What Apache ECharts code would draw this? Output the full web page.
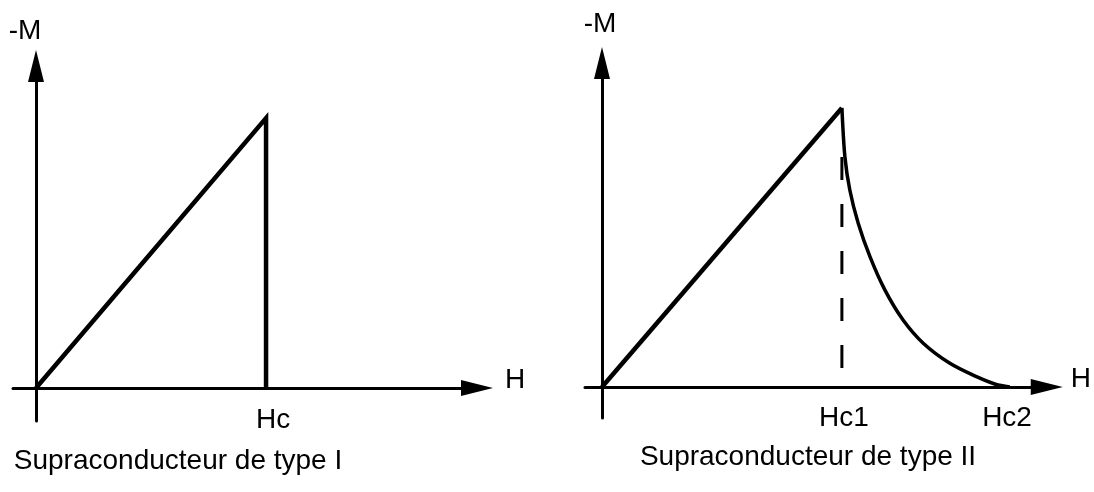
<!DOCTYPE html>
<html>
<head>
<meta charset="utf-8">
<title>Supraconducteurs</title>
<script src="https://cdn.jsdelivr.net/npm/echarts@6/dist/echarts.min.js"></script>
<style>
html, body {margin: 0; padding: 0; background: #fff;}
#echarts1 {width: 1094px; height: 492px;}
</style>
</head>
<body>
<div id="echarts1"></div>
<script>
// type I : montee lineaire puis chute a Hc
var typeI_H = [0, 1, 1];
var typeI_M = [0, 1, 0];
var typeI_ticks = [1];
var typeI_labels = ['Hc'];

// type II : montee lineaire jusqu'a Hc1, puis decroissance jusqu'a Hc2
var typeII_riseH = [0, 1];
var typeII_riseM = [0, 1];
var typeII_curveH = [1, 1.0125, 1.033, 1.068, 1.117, 1.179, 1.255, 1.339, 1.45, 1.561, 1.64, 1.70];
var typeII_curveM = [1, 0.825, 0.706, 0.587, 0.467, 0.348, 0.24, 0.157, 0.085, 0.037, 0.01, 0];
var typeII_dashH = [1, 1];
var typeII_dashM = [0.068, 0.83];
var typeII_ticks = [1, 1.68];
var typeII_labels = ['Hc1', 'Hc2'];

var titles = ['Supraconducteur de type I', 'Supraconducteur de type II'];
var axisNameX = 'H';
var axisNameY = '-M';

function pairs(xs, ys) {
    return xs.map(function (x, i) { return [x, ys[i]]; });
}

function echarts_1() {
    var myChart = echarts.init(document.getElementById('echarts1'));
    var font = 'Liberation Sans, Arial, sans-serif';

    function xAxisOf(idx, min, max, ticks, labels, gap, labelPad, margin) {
        return {
            type: 'value',
            gridIndex: idx,
            min: min,
            max: max,
            name: axisNameX,
            nameLocation: 'end',
            nameGap: gap,
            nameTextStyle: {
                color: '#000', fontSize: 28, fontFamily: font,
                align: 'left', verticalAlign: 'bottom',
                lineHeight: 16
            },
            axisLine: {
                onZero: true,
                symbol: ['none', 'triangle'],
                symbolSize: [16, 32],
                lineStyle: {color: '#000', width: 3}
            },
            axisTick: {show: false},
            splitLine: {show: false},
            axisLabel: {
                customValues: ticks,
                formatter: function (v) {
                    var i = ticks.indexOf(v);
                    return i >= 0 ? labels[i] : '';
                },
                color: '#000',
                fontSize: 28,
                fontFamily: font,
                margin: margin,
                padding: labelPad
            }
        };
    }

    function yAxisOf(idx, min, max, pad, gap) {
        return {
            type: 'value',
            gridIndex: idx,
            min: min,
            max: max,
            name: axisNameY,
            nameLocation: 'end',
            nameGap: gap,
            nameTextStyle: {
                color: '#000', fontSize: 28, fontFamily: font,
                align: 'center', verticalAlign: 'middle',
                padding: pad
            },
            axisLine: {
                onZero: true,
                symbol: ['none', 'triangle'],
                symbolSize: [16, 32],
                lineStyle: {color: '#000', width: 3}
            },
            axisTick: {show: false},
            splitLine: {show: false},
            axisLabel: {show: false}
        };
    }

    option = {
        backgroundColor: '#fff',
        animation: false,
        title: [{
            text: titles[0],
            left: 178,
            top: 447,
            textAlign: 'center',
            padding: 0,
            textStyle: {color: '#000', fontSize: 28, fontWeight: 'normal', fontFamily: font}
        }, {
            text: titles[1],
            left: 808,
            top: 443,
            textAlign: 'center',
            padding: 0,
            textStyle: {color: '#000', fontSize: 28, fontWeight: 'normal', fontFamily: font}
        }],
        grid: [
            {left: 13, top: 66, width: 464, height: 355},
            {left: 585, top: 63, width: 462, height: 355}
        ],
        xAxis: [
            xAxisOf(0, -0.1, 1.917, typeI_ticks, typeI_labels, 28, [0, 0, 0, 14], -15),
            xAxisOf(1, -0.0708, 1.854, typeII_ticks, typeII_labels, 24, [0, 0, 0, 4], -14)
        ],
        yAxis: [
            yAxisOf(0, -0.1222, 1.193, [0, 22, 0, 0], 35),
            yAxisOf(1, -0.111, 1.161, [0, 4, 0, 0], 39)
        ],
        series: [{
            name: 'type I',
            type: 'line',
            xAxisIndex: 0,
            yAxisIndex: 0,
            symbol: 'none',
            lineStyle: {color: '#000', width: 4.5, join: 'miter'},
            data: pairs(typeI_H, typeI_M)
        }, {
            name: 'type II montee',
            type: 'line',
            xAxisIndex: 1,
            yAxisIndex: 1,
            symbol: 'none',
            lineStyle: {color: '#000', width: 4.5},
            data: pairs(typeII_riseH, typeII_riseM)
        }, {
            name: 'type II courbe',
            type: 'line',
            xAxisIndex: 1,
            yAxisIndex: 1,
            symbol: 'none',
            smooth: 0.3,
            lineStyle: {color: '#000', width: 3.5},
            data: pairs(typeII_curveH, typeII_curveM)
        }, {
            name: 'Hc1',
            type: 'line',
            xAxisIndex: 1,
            yAxisIndex: 1,
            symbol: 'none',
            lineStyle: {color: '#000', width: 3, type: [23, 24]},
            data: pairs(typeII_dashH, typeII_dashM)
        }]
    };

    myChart.setOption(option);
    window.addEventListener('resize', function () {
        myChart.resize();
    });
}

echarts_1();
</script>
</body>
</html>
